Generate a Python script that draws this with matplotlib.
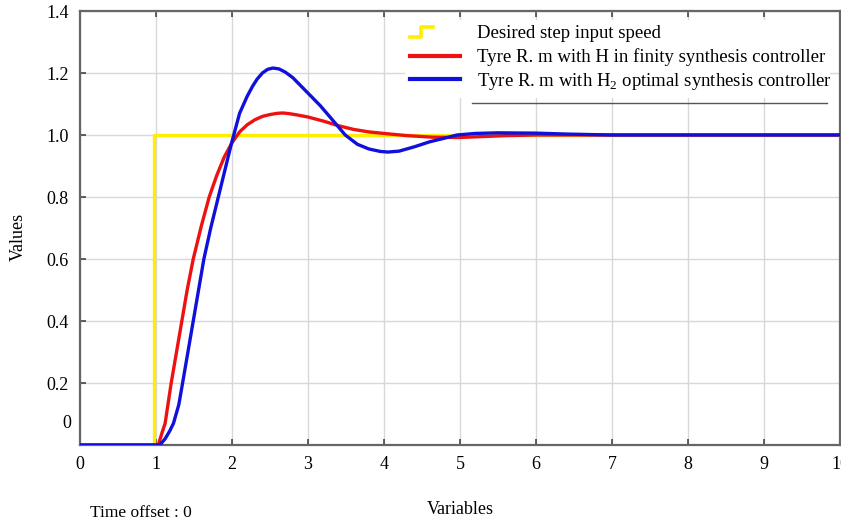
import matplotlib
matplotlib.use("Agg")
import matplotlib.pyplot as plt
from matplotlib.patches import Rectangle

plt.rcParams['font.family'] = ['Liberation Serif', 'DejaVu Serif']
plt.rcParams['mathtext.fontset'] = 'custom'
plt.rcParams['mathtext.rm'] = 'Liberation Serif'

# data
step_t = [0, 0.98, 0.98, 10]
step_v = [0, 0, 1.0, 1.0]

red_t = [0, 1.03, 1.08, 1.12, 1.20, 1.27, 1.34, 1.41, 1.49, 1.60, 1.70, 1.80, 1.90,
         2.00, 2.10, 2.20, 2.30, 2.40, 2.50, 2.60, 2.67, 2.75, 2.85, 3.00, 3.20,
         3.40, 3.60, 3.80, 4.00, 4.30, 4.64, 5.00, 5.30, 5.60, 6.00, 7.00, 10.0]
red_v = [0, 0, 0.04, 0.07, 0.20, 0.30, 0.40, 0.50, 0.60, 0.71, 0.80, 0.87, 0.93,
         0.975, 1.01, 1.033, 1.049, 1.060, 1.066, 1.070, 1.071, 1.069, 1.065, 1.058, 1.045,
         1.03, 1.018, 1.01, 1.005, 0.998, 0.993, 0.992, 0.995, 0.998, 1.0, 1.0, 1.0]

blue_t = [0, 1.05, 1.12, 1.18, 1.23, 1.30, 1.35, 1.42, 1.49, 1.56, 1.63, 1.72, 1.82,
          1.90, 1.99, 2.10, 2.20, 2.27, 2.33, 2.40, 2.47, 2.54, 2.62, 2.70, 2.80,
          2.90, 3.00, 3.16, 3.30, 3.49, 3.65, 3.80, 3.95, 4.05, 4.20, 4.40, 4.60,
          4.80, 4.96, 5.20, 5.50, 6.00, 6.40, 7.00, 10.0]
blue_v = [0, 0, 0.02, 0.045, 0.07, 0.13, 0.20, 0.30, 0.40, 0.50, 0.60, 0.70, 0.80,
          0.88, 0.97, 1.07, 1.125, 1.157, 1.18, 1.20, 1.212, 1.216, 1.213, 1.203, 1.185,
          1.16, 1.135, 1.095, 1.055, 1.00, 0.97, 0.955, 0.947, 0.945, 0.948, 0.962, 0.978,
          0.99, 1.0, 1.005, 1.007, 1.006, 1.003, 1.0, 1.0]

xticks = list(range(0, 11))
yticks = [0.2, 0.4, 0.6, 0.8, 1.0, 1.2, 1.4]
ytick_labels = ['0.2', '0.4', '0.6', '0.8', '1.0', '1.2', '1.4']
legend_labels = ['Desired step input speed',
                 'Tyre R. m with H in finity synthesis controller',
                 r'Tyre R. m with H$_\mathrm{2}$ optimal synthesis controller']

fig = plt.figure(figsize=(8.41, 5.25), dpi=100)
ax = fig.add_axes([80 / 841, 80 / 525, 760 / 841, 434 / 525])

ax.plot(step_t, step_v, color='#ffee00', lw=2.4, zorder=3)
ax.plot(red_t, red_v, color='#ee1111', lw=2.4, zorder=4)
ax.plot(blue_t, blue_v, color='#1010dd', lw=2.4, zorder=5)

ax.set_xlim(0, 10)
ax.set_ylim(0, 1.4)
ax.set_xticks(xticks)
ax.set_yticks(yticks)
ax.set_yticklabels(ytick_labels)
ax.grid(True, color='#d8d8d8', lw=1.0)
ax.set_axisbelow(True)
ax.tick_params(direction='in', length=4, width=1.2, color='#444444',
               labelsize=13, top=True, right=False, pad=8)
for s in ax.spines.values():
    s.set_color('#666666')
    s.set_linewidth(1.6)

# the zero label sits a bit above the axis in the original
ax.text(-0.012, 0.07, '0', ha='right', va='center', fontsize=13,
        transform=ax.get_yaxis_transform())

ax.set_xlabel('Variables', fontsize=13, labelpad=20)
ax.set_ylabel('Values', fontsize=13)
ax.yaxis.set_label_coords(-(80 - 27) / 760, 0.48)
fig.text(90 / 841, 1 - 513 / 525, 'Time offset : 0', fontsize=12.5, va='center')

# legend drawn by hand
ax.add_patch(Rectangle((0.428, 0.80), 0.559, 0.179, transform=ax.transAxes,
                       facecolor='white', edgecolor='none', zorder=6))
ax.plot([0.434, 0.449, 0.449, 0.465], [0.940, 0.940, 0.963, 0.963],
        color='#ffee00', lw=2.6, transform=ax.transAxes, zorder=7)
ax.plot([0.434, 0.50], [0.896, 0.896], color='#ee1111', lw=3,
        transform=ax.transAxes, zorder=7)
ax.plot([0.434, 0.50], [0.843, 0.843], color='#1010dd', lw=3,
        transform=ax.transAxes, zorder=7)
for lab, y in zip(legend_labels, [0.948, 0.893, 0.838]):
    ax.text(0.522, y, lab, transform=ax.transAxes, fontsize=13.5,
            va='center', ha='left', zorder=8)
ax.plot([0.516, 0.983], [0.788, 0.788], color='#555555', lw=1.0,
        transform=ax.transAxes, zorder=7)

fig.savefig('out.png', dpi=100)
